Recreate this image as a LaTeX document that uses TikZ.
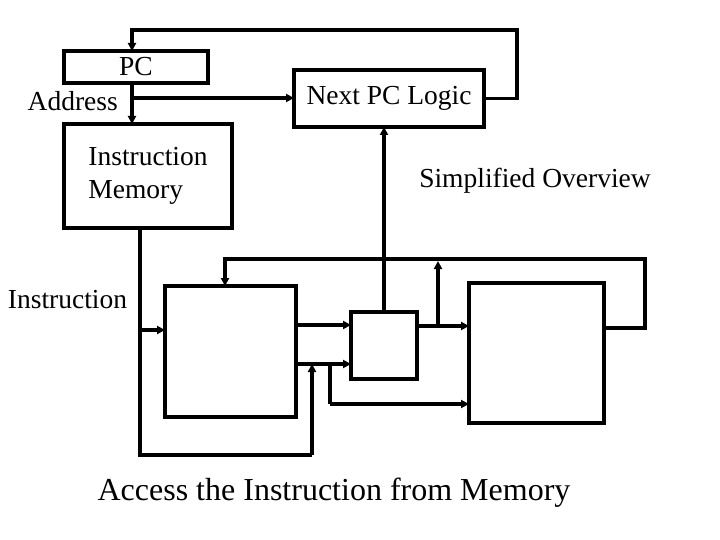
\documentclass[tikz,border=0pt]{standalone}
\usepackage{fontspec}
\setmainfont{Liberation Serif}
\usetikzlibrary{arrows.meta,calc}
\begin{document}
\begin{tikzpicture}[x=1pt,y=-1pt,
  box/.style={draw,line width=3.6pt,inner sep=0pt,outer sep=0pt,font=\fontsize{27.5}{33}\selectfont},
  txt/.style={inner sep=0pt,font=\fontsize{27.5}{33}\selectfont},
  wire/.style={line width=3.6pt},
  arr/.style={wire,-{Triangle[length=8pt,width=8pt]}}]
\useasboundingbox (0,0) rectangle (720,540);
% boxes
\node[box,minimum width=144pt,minimum height=32pt] (pc) at (136,67) {PC};
\node[box,minimum width=190pt,minimum height=57pt] (npc) at (389,98.5) {Next PC Logic};
\node[box,minimum width=168pt,minimum height=104pt,align=left] (im) at (148,176) {Instruction\\Memory};
\node[box,minimum width=131pt,minimum height=131pt] (rf) at (230.5,351.5) {};
\node[box,minimum width=66pt,minimum height=67pt] (alu) at (384,345.5) {};
\node[box,minimum width=135pt,minimum height=140pt] (dm) at (536.5,353) {};
% texts
\node[txt,anchor=east] (addrtxt) at (118,101) {Address};
\node[txt] (simp) at (535,181) {Simplified Overview};
\node[txt] (instxt) at (67.5,300) {Instruction};
\node[inner sep=0pt,font=\fontsize{32}{38}\selectfont] (title) at (334,493) {Access the Instruction from Memory};
% coordinates
\coordinate (fbA) at (517,30);
\coordinate (pcin) at (132,51);
\coordinate (addr) at (132,98);
\coordinate (j1) at (140,330);
\coordinate (b1) at (140,455);
\coordinate (b2) at (312,455);
\coordinate (m1) at (312,364);
\coordinate (yA) at (0,325);
\coordinate (yB) at (0,364);
\coordinate (yC) at (0,404);
\coordinate (yD) at (0,326);
\coordinate (k1) at (330,364);
\coordinate (k2) at (330,404);
\coordinate (s1) at (438,326);
\coordinate (s2) at (438,261);
\coordinate (fbB) at (645,259);
\coordinate (rfin) at (225,259);
% connectors
\draw[arr] (npc.east) -| (fbA) -| (pcin);
\draw[wire] (pcin |- pc.south) -- (addr);
\draw[arr] (addr) -- (addr |- im.north);
\draw[arr] (addr) -- (addr -| npc.west);
\draw[wire] (j1 |- im.south) -- (b1) -- (b2);
\draw[arr] (b2) -- (m1);
\draw[arr] (j1) -- (j1 -| rf.west);
\draw[arr] (rf.east |- yA) -- (alu.west |- yA);
\draw[arr] (rf.east |- yB) -- (alu.west |- yB);
\draw[wire] (k1) -- (k2);
\draw[arr] (k2) -- (dm.west |- yC);
\draw[arr] (alu.east |- yD) -- (dm.west |- yD);
\draw[arr] (s1) -- (s2);
\draw[arr] (alu.north) -- (alu.north |- npc.south);
\draw[arr] (dm.east |- 0,328) -| (fbB) -| (rfin) -- (rfin |- rf.north);
\end{tikzpicture}
\end{document}
